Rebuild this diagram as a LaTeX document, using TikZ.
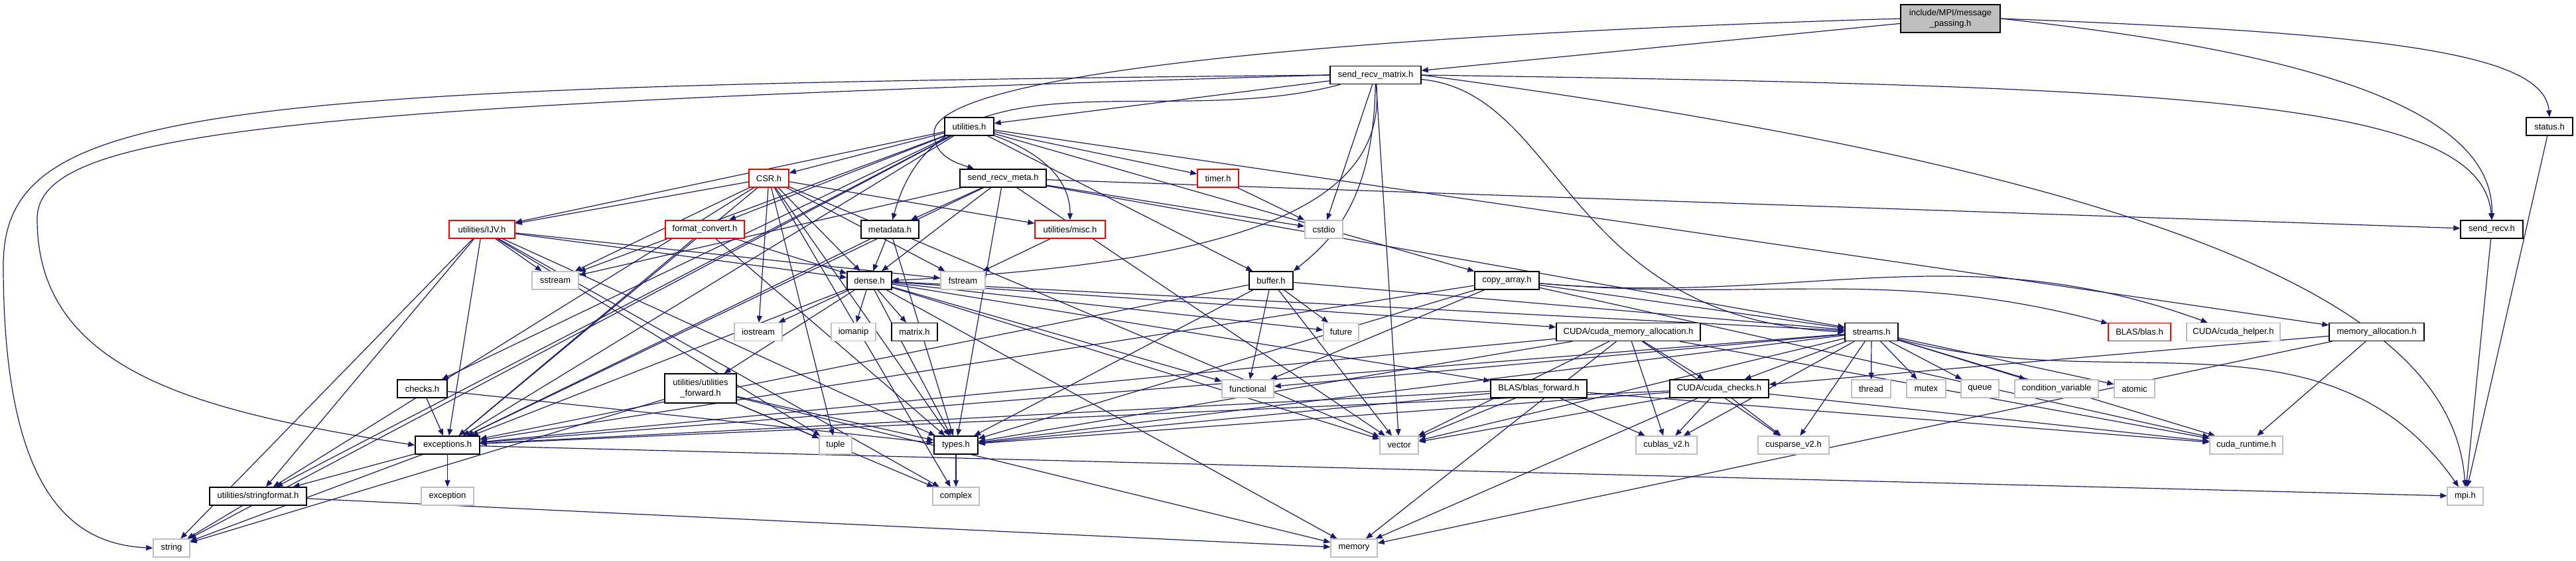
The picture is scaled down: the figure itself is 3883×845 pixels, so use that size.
\documentclass[tikz,border=0pt]{standalone}
\usepackage{fontspec}
\setmainfont{Liberation Sans}
\usetikzlibrary{arrows.meta}
\definecolor{edgeblue}{RGB}{25,25,112}
\definecolor{extgray}{RGB}{191,191,191}
\definecolor{trunred}{RGB}{255,0,0}
\pgfdeclarelayer{bg}
\pgfsetlayers{bg,main}
\tikzset{
  hdr/.style={draw=black, fill=white, line width=1.4pt, minimum height=27pt, inner sep=0pt, font=\fontsize{13}{16}\selectfont},
  cut/.style={hdr, draw=trunred},
  sys/.style={hdr, draw=extgray},
  dep/.style={draw=edgeblue, line width=1.2pt, -{Triangle[length=10pt,width=8pt]}},
}
\begin{document}
\begin{tikzpicture}[x=1pt, y=-1pt]
  \useasboundingbox (0,0) rectangle (3883,845);
  % top rows
  \node[hdr, fill=extgray, minimum width=150pt, minimum height=42pt, align=center] (mp) at (2940,28) {include/MPI/message\\\_passing.h};
  \node[hdr, minimum width=137pt] (srm) at (2073.5,113) {send\_recv\_matrix.h};
  \node[hdr, minimum width=74pt] (util) at (1461,190.5) {utilities.h};
  \node[hdr, minimum width=70pt] (status) at (3843,190.5) {status.h};
  \node[cut, minimum width=60pt] (csr) at (1159,268.5) {CSR.h};
  \node[hdr, minimum width=130pt] (srmeta) at (1512,268.5) {send\_recv\_meta.h};
  \node[cut, minimum width=62pt] (timer) at (1836,268.5) {timer.h};
  % row with IJV
  \node[cut, minimum width=99pt] (ijv) at (726.5,345.5) {utilities/IJV.h};
  \node[cut, minimum width=119pt] (fmtconv) at (1062.5,345.5) {format\_convert.h};
  \node[hdr, minimum width=87pt] (metadata) at (1341.5,345.5) {metadata.h};
  \node[cut, minimum width=106pt] (misc) at (1613,345.5) {utilities/misc.h};
  \node[sys, minimum width=57pt] (cstdio) at (1995.5,345.5) {cstdio};
  \node[hdr, minimum width=94pt] (srecv) at (3756,345.5) {send\_recv.h};
  % row with dense
  \node[sys, minimum width=70pt] (sstream) at (837,422.5) {sstream};
  \node[hdr, minimum width=67pt] (dense) at (1310.5,422.5) {dense.h};
  \node[sys, minimum width=67pt] (fstream) at (1451.5,422.5) {fstream};
  \node[hdr, minimum width=66pt] (buffer) at (1916,422.5) {buffer.h};
  \node[hdr, minimum width=97pt] (copyarr) at (2271.5,422.5) {copy\_array.h};
  % row with streams
  \node[sys, minimum width=72pt] (iostream) at (1143,500) {iostream};
  \node[sys, minimum width=67pt] (iomanip) at (1286.5,500) {iomanip};
  \node[hdr, minimum width=69pt] (matrix) at (1378.5,500) {matrix.h};
  \node[sys, minimum width=53pt] (future) at (2021.5,500) {future};
  \node[hdr, minimum width=217pt] (cudamem) at (2454.5,500) {CUDA/cuda\_memory\_allocation.h};
  \node[hdr, minimum width=80pt] (streams) at (2821,500) {streams.h};
  \node[cut, minimum width=94pt] (blas) at (3225,500) {BLAS/blas.h};
  \node[sys, minimum width=141pt] (cudahelp) at (3366.5,500) {CUDA/cuda\_helper.h};
  \node[hdr, minimum width=143pt] (memalloc) at (3582.5,500) {memory\_allocation.h};
  % row with checks
  \node[hdr, minimum width=75pt] (checks) at (636.5,585.5) {checks.h};
  \node[hdr, minimum width=108pt, minimum height=44pt, align=center] (utilfwd) at (1056,585) {utilities/utilities\\\_forward.h};
  \node[sys, minimum width=78pt] (functional) at (1881,585.5) {functional};
  \node[hdr, minimum width=145pt] (blasfwd) at (2319.5,585.5) {BLAS/blas\_forward.h};
  \node[hdr, minimum width=149pt] (cudachk) at (2591.5,585.5) {CUDA/cuda\_checks.h};
  \node[sys, minimum width=59pt] (thread) at (2820.5,585.5) {thread};
  \node[sys, minimum width=59pt] (mutex) at (2903.5,585.5) {mutex};
  \node[sys, minimum width=57pt] (queue) at (2984.5,585.5) {queue};
  \node[sys, minimum width=126pt] (condvar) at (3100,585.5) {condition\_variable};
  \node[sys, minimum width=61pt] (atomic) at (3217.5,585.5) {atomic};
  % row with types
  \node[hdr, minimum width=97pt] (exceptions) at (674.5,670.5) {exceptions.h};
  \node[sys, minimum width=49pt] (tuple) at (1259.5,670.5) {tuple};
  \node[hdr, minimum width=66pt] (types) at (1441,670.5) {types.h};
  \node[sys, minimum width=58pt] (vector) at (2109,670.5) {vector};
  \node[sys, minimum width=92pt] (cublas) at (2512,670.5) {cublas\_v2.h};
  \node[sys, minimum width=107pt] (cusparse) at (2703.5,670.5) {cusparse\_v2.h};
  \node[sys, minimum width=110pt] (cudart) at (3386,670.5) {cuda\_runtime.h};
  % bottom rows
  \node[hdr, minimum width=146pt] (strfmt) at (389,747.5) {utilities/stringformat.h};
  \node[sys, minimum width=79pt] (exception) at (674.5,747.5) {exception};
  \node[sys, minimum width=70pt] (complex) at (1441,747.5) {complex};
  \node[sys, minimum width=54pt] (mpi) at (3716,747.5) {mpi.h};
  \node[sys, minimum width=55pt] (string) at (258.5,825.5) {string};
  \node[sys, minimum width=70pt] (memory) at (2041,825.5) {memory};

  \begin{pgfonlayer}{bg}
  % message_passing.h
  \draw[dep] (mp) -- (srm);
  \draw[dep] (mp.west) .. controls (1800,60) and (1408,130) .. (1408,200) .. controls (1408,235) and (1440,245) .. ([xshift=22pt]srmeta.north west);
  \draw[dep] (mp.east) .. controls (3500,80) and (3760,170) .. (srecv.north);
  \draw[dep] (mp.east) .. controls (3600,50) and (3835,80) .. (status.north);
  % send_recv_matrix.h
  \draw[dep] (srm) -- (util);
  \draw[dep] (srm) to[out=195,in=75] (metadata);
  \draw[dep] (srm) .. controls (2090,300) and (1900,395) .. (dense.east);
  \draw[dep] (srm) .. controls (2070,300) and (2010,360) .. (buffer.north east);
  \draw[dep] (srm) -- (cstdio);
  \draw[dep] (srm.east) .. controls (3300,130) and (3740,150) .. (srecv.north);
  \draw[dep] (srm) .. controls (2357,140) and (2357,480) .. (streams.west);
  \draw[dep] (srm) -- (vector);
  \draw[dep] (srm.east) .. controls (3400,280) and (3700,500) .. (mpi.north);
  \draw[dep] (srm.west) .. controls (300,130) and (5,160) .. (5,400) .. controls (5,760) and (120,820) .. (string.west);
  \draw[dep] (srm.west) .. controls (400,160) and (56,200) .. (56,330) .. controls (56,560) and (300,620) .. (exceptions.west);
  % utilities.h
  \draw[dep] (util) -- (csr);
  \draw[dep] (util) -- (timer);
  \draw[dep] (util) -- (ijv);
  \draw[dep] (util) -- (fmtconv);
  \draw[dep] (util) to[out=-20,in=90] (misc);
  \draw[dep] (util) -- (checks);
  \draw[dep] (util) -- (copyarr);
  \draw[dep] (util) -- (memalloc);
  \draw[dep] (util) -- (buffer);
  \draw[dep] (util) -- (sstream);
  \draw[dep] (util) -- (string);
  \draw[dep] (util) -- (strfmt);
  \draw[dep] (util) -- (exceptions);
  % CSR.h
  \draw[dep] (csr) -- (ijv);
  \draw[dep] (csr) -- (sstream);
  \draw[dep] (csr) -- (dense);
  \draw[dep] (csr) -- (misc);
  \draw[dep] (csr) -- (fstream);
  \draw[dep] (csr) -- (iostream);
  \draw[dep] (csr) -- (tuple);
  \draw[dep] (csr) -- (complex);
  \draw[dep] (csr) -- (types);
  \draw[dep] (csr) -- (exceptions);
  \draw[dep] (csr) -- (strfmt);
  \draw[dep] (csr) -- (vector);
  % send_recv_meta.h
  \draw[dep] (srmeta) -- (metadata);
  \draw[dep] (srmeta) -- (dense);
  \draw[dep] (srmeta) -- (srecv);
  \draw[dep] (srmeta) -- (cstdio);
  \draw[dep] (srmeta) -- (streams);
  \draw[dep] (srmeta) -- (types);
  \draw[dep] (srmeta) -- (exceptions);
  \draw[dep] (srmeta) -- (vector);
  \draw[dep] (srmeta) -- (sstream);
  \draw[dep] (timer) -- (cstdio);
  % utilities/IJV.h
  \draw[dep] (ijv) -- (sstream);
  \draw[dep] (ijv) -- (dense);
  \draw[dep] (ijv) -- (fstream);
  \draw[dep] (ijv) -- (string);
  \draw[dep] (ijv) -- (strfmt);
  \draw[dep] (ijv) -- (exceptions);
  \draw[dep] (ijv) -- (types);
  \draw[dep] (ijv) -- (complex);
  \draw[dep] (ijv) -- (tuple);
  % format_convert.h, metadata.h, misc.h
  \draw[dep] (fmtconv) -- (dense);
  \draw[dep] (fmtconv) -- (exceptions);
  \draw[dep] (fmtconv) -- (types);
  \draw[dep] (metadata) -- (dense);
  \draw[dep] (metadata) -- (exceptions);
  \draw[dep] (metadata) -- (types);
  \draw[dep] (misc) -- (fstream);
  % dense.h
  \draw[dep] (dense) -- (iostream);
  \draw[dep] (dense) -- (iomanip);
  \draw[dep] (dense) -- (matrix);
  \draw[dep] (dense) -- (utilfwd);
  \draw[dep] (dense) -- (functional);
  \draw[dep] (dense) -- (cudamem);
  \draw[dep] (dense) -- (blasfwd);
  \draw[dep] (dense) -- (types);
  \draw[dep] (dense) -- (exceptions);
  \draw[dep] (dense) -- (memory);
  \draw[dep] (dense) -- (future);
  \draw[dep] (dense) -- (streams);
  \draw[dep] (dense) -- (vector);
  % buffer.h
  \draw[dep] (buffer) -- (future);
  \draw[dep] (buffer) -- (functional);
  \draw[dep] (buffer) -- (types);
  \draw[dep] (buffer) -- (exceptions);
  \draw[dep] (buffer) -- (streams);
  \draw[dep] (buffer) -- (vector);
  % copy_array.h
  \draw[dep] (copyarr) -- (streams);
  \draw[dep] (copyarr) to[out=-5,in=165] (blas);
  \draw[dep] (copyarr) to[out=-5,in=160] (cudahelp);
  \draw[dep] (copyarr) -- (functional);
  \draw[dep] (copyarr) -- (types);
  \draw[dep] (copyarr) -- (exceptions);
  \draw[dep] (copyarr) -- (cudart);
  % streams.h
  \draw[dep] (streams) -- (cudachk);
  \draw[dep] (streams) -- (thread);
  \draw[dep] (streams) -- (mutex);
  \draw[dep] (streams) -- (queue);
  \draw[dep] (streams) -- (condvar);
  \draw[dep] (streams) -- (atomic);
  \draw[dep] (streams) -- (cudart);
  \draw[dep] (streams) -- (cublas);
  \draw[dep] (streams) -- (cusparse);
  \draw[dep] (streams) -- (types);
  \draw[dep] (streams) -- (exceptions);
  \draw[dep] (streams) -- (functional);
  \draw[dep] (streams) -- (vector);
  \draw[dep] (streams) to[out=-15,in=125] (mpi);
  % CUDA/cuda_memory_allocation.h
  \draw[dep] (cudamem) -- (cudachk);
  \draw[dep] (cudamem) -- (cublas);
  \draw[dep] (cudamem) -- (cusparse);
  \draw[dep] (cudamem) -- (memory);
  \draw[dep] (cudamem) -- (vector);
  \draw[dep] (cudamem) -- (types);
  \draw[dep] (cudamem) -- (exceptions);
  \draw[dep] (cudamem) -- (cudart);
  % BLAS/blas_forward.h
  \draw[dep] (blasfwd) -- (vector);
  \draw[dep] (blasfwd) -- (cublas);
  \draw[dep] (blasfwd) -- (types);
  \draw[dep] (blasfwd) -- (cudart);
  \draw[dep] (blasfwd) -- (exceptions);
  % CUDA/cuda_checks.h
  \draw[dep] (cudachk) -- (cublas);
  \draw[dep] (cudachk) -- (cusparse);
  \draw[dep] (cudachk) -- (memory);
  \draw[dep] (cudachk) -- (vector);
  \draw[dep] (cudachk) -- (types);
  \draw[dep] (cudachk) -- (exceptions);
  \draw[dep] (cudachk) -- (cudart);
  % memory_allocation.h
  \draw[dep] (memalloc) -- (cudachk);
  \draw[dep] (memalloc) -- (cudart);
  \draw[dep] (memalloc) -- (memory);
  % lower headers
  \draw[dep] (checks) -- (exceptions);
  \draw[dep] (checks) -- (types);
  \draw[dep] (utilfwd) -- (string);
  \draw[dep] (utilfwd) -- (tuple);
  \draw[dep] (utilfwd) -- (types);
  \draw[dep] (utilfwd) -- (complex);
  \draw[dep] (utilfwd) -- (memory);
  \draw[dep] (exceptions) -- (strfmt);
  \draw[dep] (exceptions) -- (exception);
  \draw[dep] (exceptions) -- (string);
  \draw[dep] (exceptions) -- (mpi);
  \draw[dep] (strfmt) -- (string);
  \draw[dep] (strfmt) -- (memory);
  \draw[dep] (types) -- (complex);
  \draw[dep] (srecv) -- (mpi);
  \draw[dep] (status) -- (mpi);
  \end{pgfonlayer}
\end{tikzpicture}
\end{document}
